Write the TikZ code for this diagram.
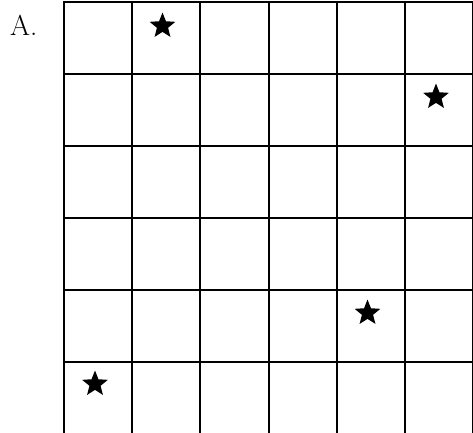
\documentclass[tikz,border=0pt]{standalone}
\usepackage{fontspec}
\usetikzlibrary{shapes.geometric}
\begin{document}
\begin{tikzpicture}[x=1bp,y=-1bp,
  gridline/.style={line width=2bp,black},
  starmark/.style={star,star points=5,star point ratio=2.3,fill=black,draw=none,minimum size=27bp,inner sep=0pt},
  label/.style={anchor=base west,inner sep=0pt,font=\fontsize{29}{30}\selectfont}]
\useasboundingbox (0,0) rectangle (473,432);
\node[label] (lab) at (10,35) {A.};
% grid: columns 64..473 (6 cols), rows 2..434 (6 rows)
\foreach \i in {0,...,6} {
  \draw[gridline] ({64+\i*68.2},1) -- ({64+\i*68.2},440);
}
\foreach \j in {0,...,6} {
  \draw[gridline] (63,{2+\j*72}) -- (480,{2+\j*72});
}
\node[starmark] (s1) at (162.5,26) {};
\node[starmark] (s2) at (436,97) {};
\node[starmark] (s3) at (367.5,313) {};
\node[starmark] (s4) at (95,384) {};
\end{tikzpicture}
\end{document}
